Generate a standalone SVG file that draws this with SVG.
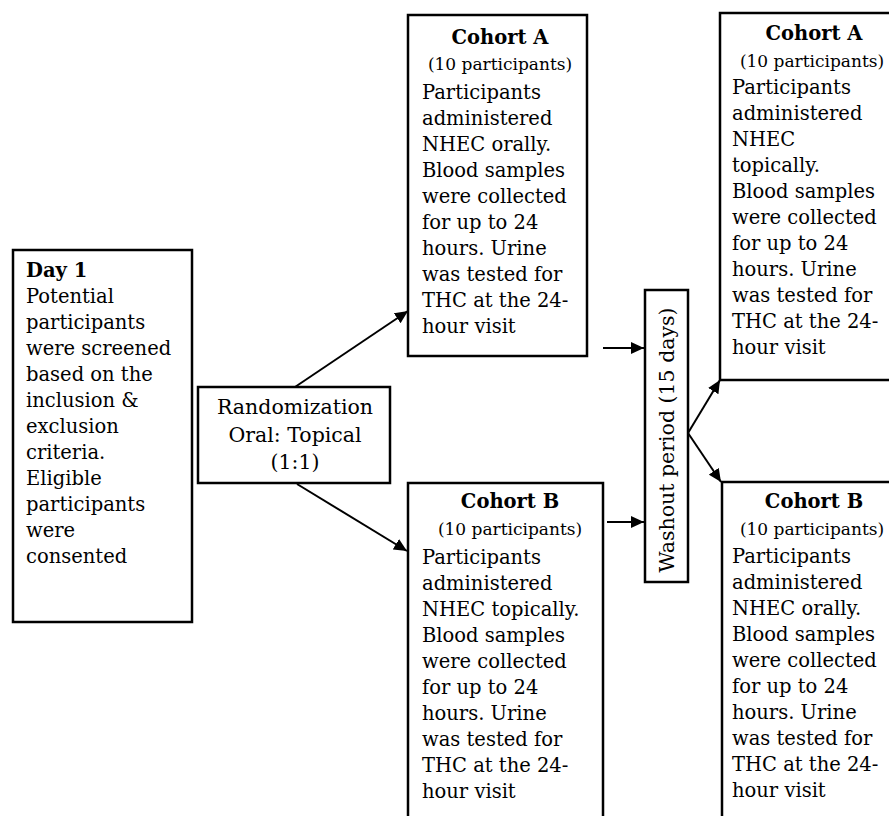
<svg xmlns="http://www.w3.org/2000/svg" width="889" height="816" viewBox="0 0 889 816">
<style>
  .box { fill: #ffffff; stroke: #000000; stroke-width: 2.5; }
  .t { font-family: "DejaVu Serif", "Liberation Serif", serif; font-size: 19.5px; fill: #000000; }
  .b { font-weight: bold; }
  .s { font-size: 17px; }
  .c { text-anchor: middle; }
  .r { font-size: 20.5px; }
  .conn { stroke: #000000; stroke-width: 2; fill: none; marker-end: url(#arr); }
</style>
<defs>
  <marker id="arr" markerUnits="userSpaceOnUse" markerWidth="14" markerHeight="12" refX="13" refY="6" orient="auto">
    <path d="M0,0 L13,6 L0,12 Z" fill="#000000"/>
  </marker>
</defs>
<rect width="889" height="816" fill="#ffffff"/>

<g id="day1">
  <rect class="box" x="13" y="250" width="179" height="372"/>
  <text class="t">
    <tspan class="b" x="26" y="277">Day 1</tspan>
    <tspan x="26" y="303">Potential</tspan>
    <tspan x="26" y="329">participants</tspan>
    <tspan x="26" y="355">were screened</tspan>
    <tspan x="26" y="381">based on the</tspan>
    <tspan x="26" y="407">inclusion &amp;</tspan>
    <tspan x="26" y="433">exclusion</tspan>
    <tspan x="26" y="459">criteria.</tspan>
    <tspan x="26" y="485">Eligible</tspan>
    <tspan x="26" y="511">participants</tspan>
    <tspan x="26" y="537">were</tspan>
    <tspan x="26" y="563">consented</tspan>
  </text>
</g>

<g id="randomization">
  <rect class="box" x="198" y="387" width="192" height="96"/>
  <text class="t r c" x="295" y="414">Randomization</text>
  <text class="t r c" x="295" y="442">Oral: Topical</text>
  <text class="t r c" x="295" y="469">(1:1)</text>
</g>

<g id="cohortA1">
  <rect class="box" x="408" y="15" width="179" height="341"/>
  <text class="t b c" x="500" y="44">Cohort A</text>
  <text class="t s c" x="500" y="70">(10 participants)</text>
  <text class="t">
    <tspan x="422" y="99">Participants</tspan>
    <tspan x="422" y="125">administered</tspan>
    <tspan x="422" y="151">NHEC orally.</tspan>
    <tspan x="422" y="177">Blood samples</tspan>
    <tspan x="422" y="203">were collected</tspan>
    <tspan x="422" y="229">for up to 24</tspan>
    <tspan x="422" y="255">hours. Urine</tspan>
    <tspan x="422" y="281">was tested for</tspan>
    <tspan x="422" y="307">THC at the 24-</tspan>
    <tspan x="422" y="333">hour visit</tspan>
  </text>
</g>

<g id="cohortB1">
  <rect class="box" x="408" y="483" width="195" height="350"/>
  <text class="t b c" x="510" y="508">Cohort B</text>
  <text class="t s c" x="510" y="535">(10 participants)</text>
  <text class="t">
    <tspan x="422" y="564">Participants</tspan>
    <tspan x="422" y="590">administered</tspan>
    <tspan x="422" y="616">NHEC topically.</tspan>
    <tspan x="422" y="642">Blood samples</tspan>
    <tspan x="422" y="668">were collected</tspan>
    <tspan x="422" y="694">for up to 24</tspan>
    <tspan x="422" y="720">hours. Urine</tspan>
    <tspan x="422" y="746">was tested for</tspan>
    <tspan x="422" y="772">THC at the 24-</tspan>
    <tspan x="422" y="798">hour visit</tspan>
  </text>
</g>

<g id="washout">
  <rect class="box" x="645" y="290" width="43" height="292"/>
  <text class="t r c" transform="translate(674,440) rotate(-90)">Washout period (15 days)</text>
</g>

<g id="cohortA2">
  <rect class="box" x="720" y="13" width="200" height="367"/>
  <text class="t b c" x="814" y="40">Cohort A</text>
  <text class="t s c" x="812" y="67">(10 participants)</text>
  <text class="t">
    <tspan x="732" y="94">Participants</tspan>
    <tspan x="732" y="120">administered</tspan>
    <tspan x="732" y="146">NHEC</tspan>
    <tspan x="732" y="172">topically.</tspan>
    <tspan x="732" y="198">Blood samples</tspan>
    <tspan x="732" y="224">were collected</tspan>
    <tspan x="732" y="250">for up to 24</tspan>
    <tspan x="732" y="276">hours. Urine</tspan>
    <tspan x="732" y="302">was tested for</tspan>
    <tspan x="732" y="328">THC at the 24-</tspan>
    <tspan x="732" y="354">hour visit</tspan>
  </text>
</g>

<g id="cohortB2">
  <rect class="box" x="722" y="482" width="200" height="350"/>
  <text class="t b c" x="814" y="508">Cohort B</text>
  <text class="t s c" x="812" y="535">(10 participants)</text>
  <text class="t">
    <tspan x="732" y="563">Participants</tspan>
    <tspan x="732" y="589">administered</tspan>
    <tspan x="732" y="615">NHEC orally.</tspan>
    <tspan x="732" y="641">Blood samples</tspan>
    <tspan x="732" y="667">were collected</tspan>
    <tspan x="732" y="693">for up to 24</tspan>
    <tspan x="732" y="719">hours. Urine</tspan>
    <tspan x="732" y="745">was tested for</tspan>
    <tspan x="732" y="771">THC at the 24-</tspan>
    <tspan x="732" y="797">hour visit</tspan>
  </text>
</g>

<g id="connectors">
  <line class="conn" x1="295" y1="387" x2="408" y2="311"/>
  <line class="conn" x1="297" y1="484" x2="407" y2="551"/>
  <line class="conn" x1="603" y1="348" x2="644" y2="348"/>
  <line class="conn" x1="607" y1="522" x2="644" y2="522"/>
  <line class="conn" x1="688" y1="433" x2="720" y2="380"/>
  <line class="conn" x1="688" y1="433" x2="721" y2="482"/>
</g>
</svg>
